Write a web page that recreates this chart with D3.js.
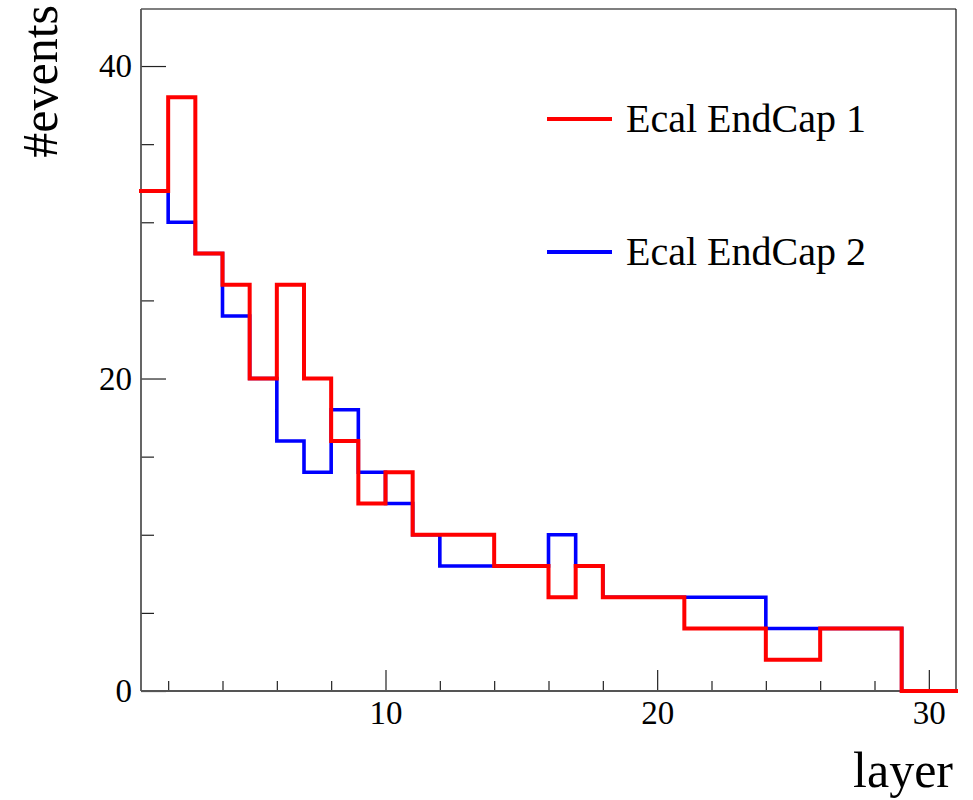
<!DOCTYPE html>
<html>
<head>
<meta charset="utf-8">
<script src="https://cdn.jsdelivr.net/npm/d3@7"></script>
<style>
  body { margin: 0; background: #ffffff; }
  text { font-family: "Liberation Serif", "Times New Roman", serif; fill: #000; }
</style>
</head>
<body>
<div id="viz-container"></div>
<script>
let w = 973;
let h = 800;

// bin lower edges 1..30, width 1
const binEdges = d3.range(1, 32);
const seriesNames = ["Ecal EndCap 1", "Ecal EndCap 2"];
const seriesColors = ["#ff0000", "#0000ff"];
const endcap1 = [32, 38, 28, 26, 20, 26, 20, 16, 12, 14, 10, 10, 10, 8, 8, 6, 8, 6, 6, 6, 4, 4, 4, 2, 2, 4, 4, 4, 0, 0];
const endcap2 = [32, 30, 28, 24, 20, 16, 14, 18, 14, 12, 10, 8, 8, 8, 8, 10, 8, 6, 6, 6, 6, 6, 6, 4, 4, 4, 4, 4, 0, 0];
const xMajor = [10, 20, 30];
const xMinor = [2, 4, 6, 8, 12, 14, 16, 18, 22, 24, 26, 28];
const yMajor = [0, 20, 40];
const yMinor = [5, 10, 15, 25, 30, 35];

let frame = {left: 141, right: 956, top: 9, bottom: 691};

let viz = d3.select("#viz-container")
  .append("svg")
  .attr("width", w)
  .attr("height", h)
  .style("background-color", "#ffffff");

let x = d3.scaleLinear().domain([1, 31]).range([frame.left, frame.right]);
let y = d3.scaleLinear().domain([0, 43.65]).range([frame.bottom, frame.top]);

// axes with inward ticks (ROOT style)
let xAxisMinor = d3.axisBottom(x).tickValues(xMinor).tickSize(-10).tickFormat("");
let xAxisMajor = d3.axisBottom(x).tickValues(xMajor).tickSize(-21).tickPadding(10).tickFormat(d3.format("d"));
let yAxisMinor = d3.axisLeft(y).tickValues(yMinor).tickSize(-13).tickFormat("");
let yAxisMajor = d3.axisLeft(y).tickValues(yMajor).tickSize(-25).tickPadding(9).tickFormat(d3.format("d"));

[xAxisMinor, xAxisMajor].forEach(a => {
  let g = viz.append("g").attr("transform", `translate(0,${frame.bottom})`).call(a);
  g.select(".domain").remove();
  g.selectAll("line").attr("stroke", "#222").attr("stroke-width", 1.2);
  g.selectAll("text").attr("font-size", 33).attr("font-family", "Liberation Serif").attr("fill", "#000");
});
[yAxisMinor, yAxisMajor].forEach(a => {
  let g = viz.append("g").attr("transform", `translate(${frame.left},0)`).call(a);
  g.select(".domain").remove();
  g.selectAll("line").attr("stroke", "#222").attr("stroke-width", 1.2);
  g.selectAll("text").attr("font-size", 33).attr("font-family", "Liberation Serif").attr("fill", "#000");
});

// frame
viz.append("line")
  .attr("x1", frame.left).attr("x2", frame.right)
  .attr("y1", frame.top).attr("y2", frame.top)
  .attr("stroke", "#555").attr("stroke-width", 1.6);
viz.append("line")
  .attr("x1", frame.left).attr("x2", frame.left)
  .attr("y1", frame.top).attr("y2", frame.bottom)
  .attr("stroke", "#555").attr("stroke-width", 1.8);
viz.append("line")
  .attr("x1", frame.left).attr("x2", frame.right)
  .attr("y1", frame.bottom).attr("y2", frame.bottom)
  .attr("stroke", "#555").attr("stroke-width", 1.8);
viz.append("line")
  .attr("x1", frame.right).attr("x2", frame.right)
  .attr("y1", frame.top).attr("y2", frame.bottom)
  .attr("stroke", "#111").attr("stroke-width", 1.2);

// step histograms
function stepPoints(counts) {
  let pts = counts.map((c, i) => [binEdges[i], c]);
  pts.push([binEdges[counts.length], counts[counts.length - 1]]);
  return pts;
}
let lineMaker = d3.line()
  .x(d => x(d[0]))
  .y(d => y(d[1]))
  .curve(d3.curveStepAfter);

let histData = [endcap2, endcap1];
let histColors = [seriesColors[1], seriesColors[0]];
let histWidths = [3.6, 4];
viz.selectAll(".hist").data(histData).enter()
  .append("path")
  .attr("class", "hist")
  .attr("d", d => lineMaker(stepPoints(d)))
  .attr("fill", "none")
  .attr("stroke", (d, i) => histColors[i])
  .attr("stroke-width", (d, i) => histWidths[i])
  .attr("stroke-linejoin", "miter")
  .attr("stroke-linecap", "square");

// legend
let legendY = [119, 252];
let legend = viz.selectAll(".legend").data(seriesNames).enter()
  .append("g")
  .attr("class", "legend")
  .attr("transform", (d, i) => `translate(0,${legendY[i]})`);
legend.append("line")
  .attr("x1", 547).attr("x2", 612)
  .attr("y1", 0).attr("y2", 0)
  .attr("stroke", (d, i) => seriesColors[i])
  .attr("stroke-width", 4);
legend.append("text")
  .text(d => d)
  .attr("x", 626)
  .attr("y", 13)
  .attr("font-size", 40);

// axis titles
viz.append("text")
  .text("layer")
  .attr("x", 953)
  .attr("y", 787)
  .attr("text-anchor", "end")
  .attr("font-size", 50);
viz.append("text")
  .text("#events")
  .attr("transform", "translate(57,5) rotate(-90)")
  .attr("text-anchor", "end")
  .attr("font-size", 50);
</script>
</body>
</html>
